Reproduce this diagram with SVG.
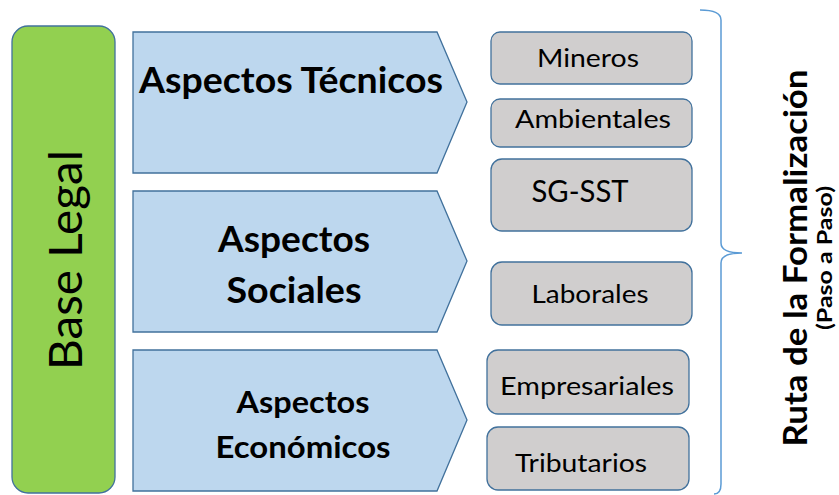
<svg xmlns="http://www.w3.org/2000/svg" width="839" height="495" viewBox="0 0 839 495">
<style>
  .t { font-family: Lato, "Liberation Sans", sans-serif; fill: #000; text-anchor: middle; }
  .b { font-weight: bold; }
  .chev { fill: #bdd7ee; stroke: #41719c; stroke-width: 1.3; }
  .box { fill: #d0cece; stroke: #41719c; stroke-width: 1.3; }
</style>
<rect width="839" height="495" fill="#ffffff"/>
<g id="base-legal">
  <rect x="12" y="26" width="103" height="467" rx="16" fill="#92d050" stroke="#41719c" stroke-width="1.3"/>
  <text class="t" x="82" y="260" font-size="46" textLength="220" lengthAdjust="spacingAndGlyphs" transform="rotate(-90 82 260)">Base Legal</text>
</g>
<g id="aspectos-tecnicos">
  <polygon class="chev" points="133,32 437,32 467,102 437,173 133,173"/>
  <text class="t b" x="291" y="93" font-size="36" textLength="304" lengthAdjust="spacingAndGlyphs">Aspectos Técnicos</text>
</g>
<g id="aspectos-sociales">
  <polygon class="chev" points="133,191 437,191 467,261 437,332 133,332"/>
  <text class="t b" x="294" y="252" font-size="36" textLength="152" lengthAdjust="spacingAndGlyphs">Aspectos</text>
  <text class="t b" x="294" y="303" font-size="36" textLength="135" lengthAdjust="spacingAndGlyphs">Sociales</text>
</g>
<g id="aspectos-economicos">
  <polygon class="chev" points="133,350 437,350 467,420 437,491 133,491"/>
  <text class="t b" x="303" y="413" font-size="31" textLength="133" lengthAdjust="spacingAndGlyphs">Aspectos</text>
  <text class="t b" x="303" y="458" font-size="31" textLength="175" lengthAdjust="spacingAndGlyphs">Económicos</text>
</g>
<g id="mineros">
  <rect class="box" x="491" y="32" width="201" height="52" rx="9"/>
  <text class="t" x="588" y="67" font-size="25" textLength="102" lengthAdjust="spacingAndGlyphs">Mineros</text>
</g>
<g id="ambientales">
  <rect class="box" x="491" y="99" width="201" height="48" rx="9"/>
  <text class="t" x="593" y="128" font-size="25" textLength="156" lengthAdjust="spacingAndGlyphs">Ambientales</text>
</g>
<g id="sg-sst">
  <rect class="box" x="491" y="159" width="201" height="72" rx="11"/>
  <text class="t" x="580" y="202" font-size="31" textLength="97" lengthAdjust="spacingAndGlyphs">SG-SST</text>
</g>
<g id="laborales">
  <rect class="box" x="491" y="262" width="201" height="63" rx="11"/>
  <text class="t" x="590" y="303" font-size="25" textLength="117" lengthAdjust="spacingAndGlyphs">Laborales</text>
</g>
<g id="empresariales">
  <rect class="box" x="487" y="350" width="202" height="64" rx="11"/>
  <text class="t" x="587" y="395" font-size="25" textLength="174" lengthAdjust="spacingAndGlyphs">Empresariales</text>
</g>
<g id="tributarios">
  <rect class="box" x="487" y="427" width="202" height="63" rx="11"/>
  <text class="t" x="581" y="472" font-size="25" textLength="132" lengthAdjust="spacingAndGlyphs">Tributarios</text>
</g>
<g id="connectors">
  <path d="M700,10 Q721,10 721,20 L721,243 Q721,253 742,253 Q721,253 721,263 L721,484 Q721,494 714,494" fill="none" stroke="#5b9bd5" stroke-width="1.5"/>
</g>
<g id="ruta">
  <text class="t b" x="807" y="258" font-size="33" textLength="377" lengthAdjust="spacingAndGlyphs" transform="rotate(-90 807 258)">Ruta de la Formalización</text>
  <text class="t b" x="832" y="258" font-size="20" textLength="144" lengthAdjust="spacingAndGlyphs" transform="rotate(-90 832 258)">(Paso a Paso)</text>
</g>
</svg>
